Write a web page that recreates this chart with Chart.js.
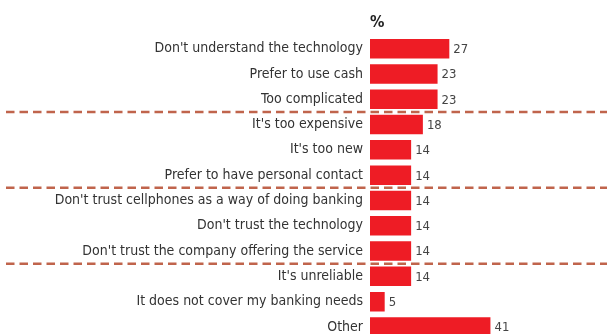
<!DOCTYPE html>
<html lang="en">
<head>
  <meta charset="UTF-8">
  <title>Reasons for not using mobile banking</title>
  <script src="https://cdn.jsdelivr.net/npm/chart.js"></script>
  <style>
    html, body { margin: 0; padding: 0; overflow: hidden; background: #fff; }
  </style>
</head>
<body>
<canvas id="reasonsChart" width="607" height="355"></canvas>
<script>
  const reasons = [
    "Don't understand the technology",
    'Prefer to use cash',
    'Too complicated',
    "It's too expensive",
    "It's too new",
    'Prefer to have personal contact',
    "Don't trust cellphones as a way of doing banking",
    "Don't trust the technology",
    "Don't trust the company offering the service",
    "It's unreliable",
    'It does not cover my banking needs',
    'Other'
  ];
  const shares = [27, 23, 23, 18, 14, 14, 14, 14, 14, 14, 5, 41];
  // dashed rules go after these row indexes
  const groupBreaks = [2, 5, 8];

  const FONT = "'Liberation Sans Narrow', 'DejaVu Sans Condensed', sans-serif";

  // value printed at the end of each bar
  const barValues = {
    id: 'barValues',
    afterDatasetsDraw(chart) {
      const ctx = chart.ctx;
      const meta = chart.getDatasetMeta(0);
      ctx.save();
      ctx.font = '13px ' + FONT;
      ctx.fillStyle = '#444';
      ctx.textAlign = 'left';
      ctx.textBaseline = 'middle';
      meta.data.forEach((bar, i) => {
        ctx.fillText(shares[i], bar.x + 4, bar.y + 1);
      });
      ctx.restore();
    }
  };

  // dashed separators between groups of reasons
  const groupRules = {
    id: 'groupRules',
    afterDatasetsDraw(chart) {
      const ctx = chart.ctx;
      const y = chart.scales.y;
      ctx.save();
      ctx.strokeStyle = '#c0644c';
      ctx.lineWidth = 2.5;
      ctx.setLineDash([8.5, 5]);
      groupBreaks.forEach(i => {
        const py = (y.getPixelForValue(i) + y.getPixelForValue(i + 1)) / 2;
        ctx.beginPath();
        ctx.moveTo(6, py);
        ctx.lineTo(chart.width, py);
        ctx.stroke();
      });
      ctx.restore();
    }
  };

  new Chart(document.getElementById('reasonsChart'), {
    type: 'bar',
    data: {
      labels: reasons,
      datasets: [{
        data: shares,
        backgroundColor: '#ee1c25',
        borderWidth: 0,
        barPercentage: 0.77,
        categoryPercentage: 1
      }]
    },
    options: {
      indexAxis: 'y',
      responsive: false,
      animation: false,
      layout: { padding: { top: 0, right: 2, bottom: 0, left: 0 } },
      plugins: {
        legend: { display: false },
        tooltip: { enabled: false }
      },
      scales: {
        x: {
          position: 'top',
          min: 0,
          max: 80,
          grid: { display: false },
          border: { display: false },
          ticks: { display: false },
          title: {
            display: true,
            text: '%',
            align: 'start',
            color: '#222',
            font: { family: FONT, size: 16, weight: 'bold' },
            padding: { top: 13, bottom: 0 }
          },
          afterFit(scale) { scale.height = 36; }
        },
        y: {
          grid: { display: false, drawTicks: false },
          border: { display: false },
          ticks: {
            color: '#333',
            padding: 7,
            font: { family: FONT, size: 14 }
          },
          afterFit(scale) { scale.width = 370; }
        }
      }
    },
    plugins: [barValues, groupRules]
  });
</script>
</body>
</html>
